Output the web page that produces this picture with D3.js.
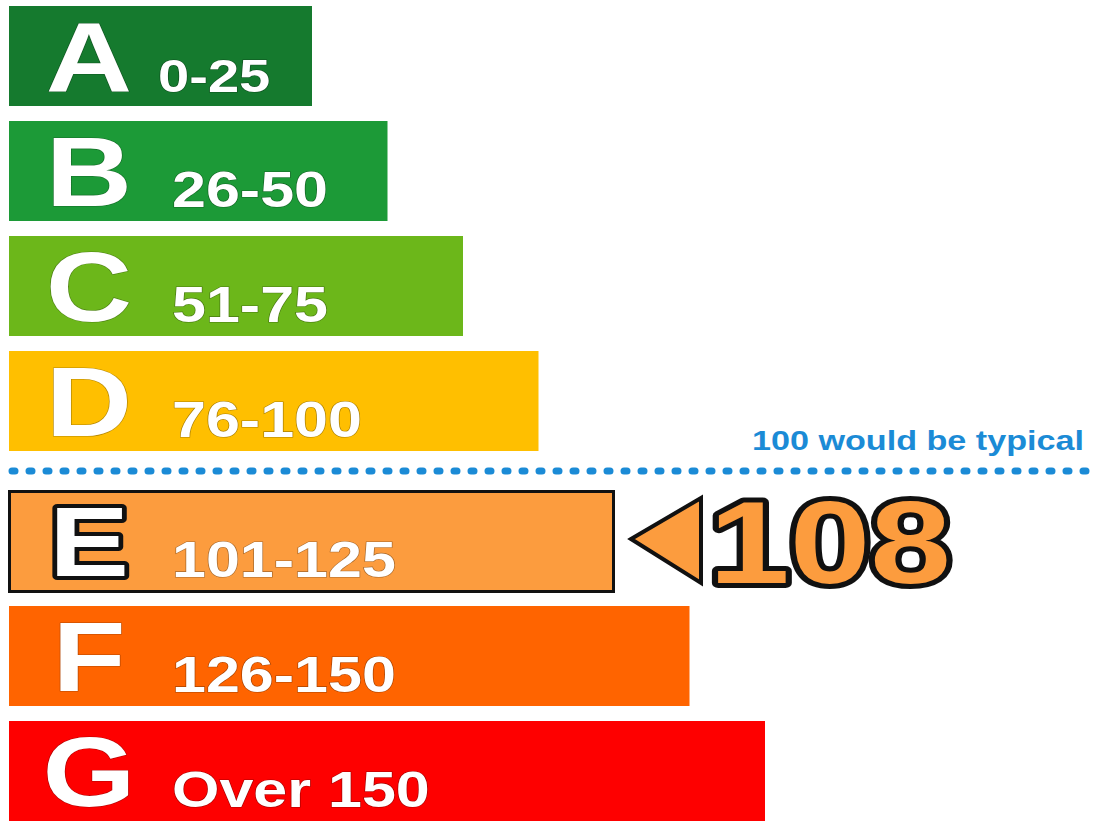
<!DOCTYPE html>
<html>
<head>
<meta charset="utf-8">
<script src="https://cdn.jsdelivr.net/npm/d3@7"></script>
<style>
  html, body { margin: 0; padding: 0; background: #ffffff; }
  svg { display: block; }
</style>
</head>
<body>
<svg id="chart" width="1095" height="821"></svg>
<script>
// Energy rating bands
const ratings = ["A", "B", "C", "D", "E", "F", "G"];
const ranges = ["0-25", "26-50", "51-75", "76-100", "101-125", "126-150", "Over 150"];
const lowerBounds = [0, 26, 51, 76, 101, 126, 151];
const bandColors = ["#157a2e", "#1c9a37", "#6cb71a", "#ffbf00", "#fc9c3e", "#ff6400", "#fe0000"];

// Reference level and the property's own score
const typicalValue = 100;
const typicalLabel = "100 would be typical";
const currentValue = 108;

const svg = d3.select("#chart");
const W = 1095;
const FONT = "'Liberation Sans', Arial, Helvetica, sans-serif";
const STRETCH = 1.22; // wide lettering

// which band a score falls into
const bandOf = v => d3.bisectRight(lowerBounds, v) - 1;
const typicalBand = bandOf(typicalValue);
const currentBand = bandOf(currentValue);

// bar length grows with band rank
const left = 9;
const barLen = d3.scaleLinear().domain([0, ratings.length - 1]).range([303, 756]);

// vertical placement: fixed step, extra room under the typical band for the divider
const barH = 100;
const gap = 25;
const yStep = d3.scaleLinear().domain([0, 1]).range([6, 121]);
const yTop = i => yStep(i) + (i > typicalBand ? gap : 0);

const bands = ratings.map((r, i) => ({
  rating: r, range: ranges[i], color: bandColors[i], i
}));

const g = svg.append("g");

// bars
g.selectAll("rect.band")
  .data(bands)
  .join("rect")
  .attr("class", "band")
  .attr("x", left)
  .attr("y", d => yTop(d.i))
  .attr("width", d => barLen(d.i))
  .attr("height", barH)
  .attr("fill", d => d.color);

// outline on the band holding the current score
const cur = bands[currentBand];
g.append("rect")
  .attr("x", left + 0.5)
  .attr("y", yTop(cur.i) + 0.5)
  .attr("width", barLen(cur.i) - 1)
  .attr("height", barH)
  .attr("fill", "none")
  .attr("stroke", "#111")
  .attr("stroke-width", 3);

// band letters
g.selectAll("text.letter")
  .data(bands)
  .join("text")
  .attr("class", "letter")
  .attr("transform", d => `translate(89,${yTop(d.i) + 85}) scale(${STRETCH},1)`)
  .attr("text-anchor", "middle")
  .attr("font-family", FONT)
  .attr("font-weight", "bold")
  .attr("font-size", 98)
  .attr("fill", "#ffffff")
  .attr("stroke", d => d.i === currentBand ? "#111" : "rgba(0,0,0,0.3)")
  .attr("stroke-width", d => d.i === currentBand ? 8 : 1.2)
  .attr("stroke-linejoin", "round")
  .attr("paint-order", "stroke")
  .text(d => d.rating);

// score ranges
g.selectAll("text.range")
  .data(bands)
  .join("text")
  .attr("class", "range")
  .attr("transform", d => `translate(${d.i === 0 ? 158 : 172},${yTop(d.i) + 86}) scale(${STRETCH},1)`)
  .attr("font-family", FONT)
  .attr("font-weight", "bold")
  .attr("font-size", d => d.i === 0 ? 46 : 50)
  .attr("fill", "#ffffff")
  .attr("stroke", "rgba(0,0,0,0.35)")
  .attr("stroke-width", 1.2)
  .attr("paint-order", "stroke")
  .text(d => d.range);

// divider marking the typical score
const lineY = (yTop(typicalBand) + barH + yTop(typicalBand + 1)) / 2;
svg.append("line")
  .attr("x1", 12).attr("x2", W + 5)
  .attr("y1", lineY).attr("y2", lineY)
  .attr("stroke", "#1b8bd6")
  .attr("stroke-width", 7)
  .attr("stroke-linecap", "round")
  .attr("stroke-dasharray", "3 14");

svg.append("text")
  .attr("transform", `translate(1084,${lineY - 21}) scale(${STRETCH},1)`)
  .attr("text-anchor", "end")
  .attr("font-family", FONT)
  .attr("font-weight", "bold")
  .attr("font-size", 28)
  .attr("fill", "#1b8bd6")
  .text(typicalLabel);

// pointer with the current score
const cy = yTop(currentBand) + barH / 2;
const tipX = left + barLen(currentBand) + 17;
svg.append("path")
  .attr("d", d3.line()([[tipX, cy - 2], [tipX + 70, cy - 43], [tipX + 70, cy + 42]]) + "Z")
  .attr("fill", bandColors[currentBand])
  .attr("stroke", "#111")
  .attr("stroke-width", 4)
  .attr("stroke-linejoin", "miter");

svg.append("text")
  .attr("transform", `translate(${tipX + 78},${cy + 42}) scale(${STRETCH + 0.03},1)`)
  .attr("font-family", FONT)
  .attr("font-weight", "bold")
  .attr("font-size", 116)
  .attr("fill", bandColors[currentBand])
  .attr("stroke", "#111")
  .attr("stroke-width", 10)
  .attr("stroke-linejoin", "round")
  .attr("paint-order", "stroke")
  .text(currentValue);
</script>
</body>
</html>
